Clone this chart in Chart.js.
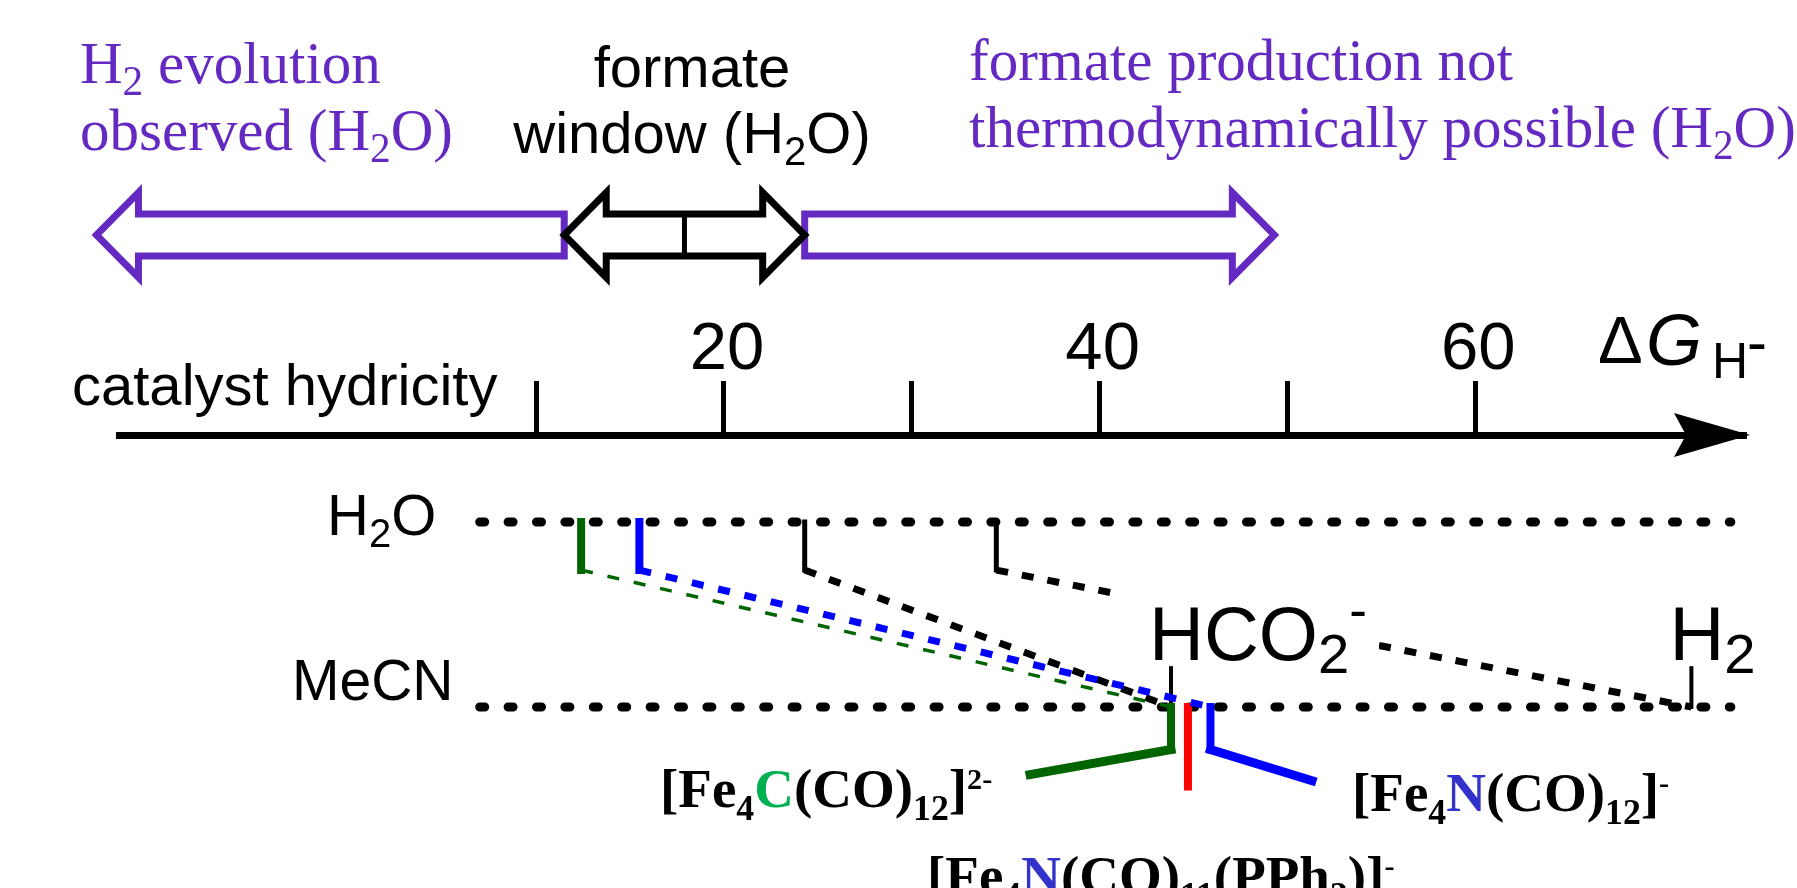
<!DOCTYPE html>
<html>
<head>
<meta charset="utf-8">
<script src="https://cdn.jsdelivr.net/npm/chart.js@4.4.1/dist/chart.umd.min.js"></script>
<style>
  html, body { margin: 0; padding: 0; background: #fff; }
  #wrap { width: 1797px; height: 888px; overflow: hidden; }
</style>
</head>
<body>
<div id="wrap"><canvas id="hydricityChart" width="1797" height="888"></canvas></div>
<script>
// hydricity values (kcal/mol)
const axisRange = [-12.2, 74.3];
const axisTicks = [10, 20, 30, 40, 50, 60];
const axisLabels = [20, 40, 60];

const refNames = ['HCO2-', 'H2'];
const refH2O = [24.3, 34.5];
const refMeCN = [43.8, 71.5];

const catNames = ['[Fe4C(CO)12]2-', '[Fe4N(CO)12]-', '[Fe4N(CO)11(PPh3)]-'];
const catH2O = [12.4, 15.5, null];
const catMeCN = [43.8, 45.9, 44.7];
const catColors = ['#006400', '#0000ff', '#ff0000'];

// regions in water, shown by the block arrows on top
const h2EvolutionLimit = 11.5;
const formateLimit = refH2O[0];
const arrowOuter = [-13.4, 49.3];

// solvent levels
const levelNames = ['H2O', 'MeCN'];
const levelY = [1, 0];
const levelSpan = [7.0, 73.6];

// drawing constants (level units)
const TICK_H2O = 0.26;
const TICK_MECN = 0.21;
const catDrop = [0.23, 0.23, 0.43];
const callout = [{ dx: -7.5, dy: -0.135 }, { dx: 5.4, dy: -0.168 }, null];
const catDashW = [3.5, 7];

const SANS = "'Liberation Sans', Arial, sans-serif";
const SERIF = "'Liberation Serif', 'Times New Roman', serif";
const PURPLE = '#6429c0';

/**
 * Polyline dataset with per-segment width and dash
 */
function pathSet(label, points, color, widths, dashes) {
  return {
    label,
    data: points,
    showLine: true,
    pointRadius: 0,
    borderColor: color,
    borderWidth: widths[0],
    borderJoinStyle: 'miter',
    borderCapStyle: 'butt',
    segment: {
      borderWidth: c => widths[c.p0DataIndex],
      borderDash: c => dashes[c.p0DataIndex],
      borderCapStyle: c => (dashes[c.p0DataIndex].length ? 'butt' : 'square')
    }
  };
}

const datasets = [];

catNames.forEach((name, i) => {
  const c = catColors[i];
  const pts = [{ x: catMeCN[i], y: levelY[1] }, { x: catMeCN[i], y: levelY[1] - catDrop[i] }];
  if (callout[i]) pts.push({ x: catMeCN[i] + callout[i].dx, y: levelY[1] - catDrop[i] + callout[i].dy });
  datasets.push(pathSet(name + ' MeCN', pts, c, [8, 9], [[], []]));
  if (catH2O[i] != null) {
    datasets.push(pathSet(name + ' H2O', [
      { x: catH2O[i], y: levelY[0] },
      { x: catH2O[i], y: levelY[0] - TICK_H2O },
      { x: catMeCN[i], y: levelY[1] }
    ], c, [8, catDashW[i]], [[], [12, 15]]));
  }
});

refNames.forEach((name, i) => {
  datasets.push(pathSet(name, [
    { x: refH2O[i], y: levelY[0] },
    { x: refH2O[i], y: levelY[0] - TICK_H2O },
    { x: refMeCN[i], y: levelY[1] },
    { x: refMeCN[i], y: levelY[1] + TICK_MECN }
  ], '#000', [5, 7, 4], [[], [12, 14], []]));
});

levelNames.forEach((name, i) => {
  datasets.push({
    label: name,
    data: levelSpan.map(x => ({ x, y: levelY[i] })),
    showLine: true,
    pointRadius: 0,
    borderColor: '#000',
    borderWidth: 9,
    borderDash: [5, 23.4],
    borderCapStyle: 'round'
  });
});

/**
 * Draw text made of runs (normal / sub / sup / italic, own colours)
 */
function rich(ctx, parts, x, y, o) {
  const runs = parts.map(p => {
    const a = Array.isArray(p) ? p : [p];
    const kind = a[1] || '';
    let size = o.size, dy = 0;
    if (kind === 'sub') { size *= o.subScale || 0.7; dy = o.size * (o.subDrop || 0.2); }
    if (kind === 'sup') { size *= o.supScale || 0.6; dy = -o.size * (o.supRise || 0.38); }
    const style = kind === 'i' ? 'italic ' : '';
    return { t: a[0], color: a[2] || o.color, dy, font: `${style}${o.weight || 'normal'} ${size}px ${o.family}` };
  });
  let w = 0;
  runs.forEach(r => { ctx.font = r.font; r.w = ctx.measureText(r.t).width; w += r.w; });
  let cx = o.align === 'center' ? x - w / 2 : x;
  ctx.textAlign = 'left';
  ctx.textBaseline = 'alphabetic';
  runs.forEach(r => {
    ctx.font = r.font;
    ctx.fillStyle = r.color;
    ctx.fillText(r.t, cx, y + r.dy);
    cx += r.w;
  });
}

/**
 * Outlined block arrow between two pixel x positions
 */
function blockArrow(ctx, xa, xb, headLeft, headRight, color) {
  const cy = 235, h = 21, H = 42.5, L = 42;
  const p = [];
  if (headLeft) p.push([xa, cy], [xa + L, cy - H], [xa + L, cy - h]);
  else p.push([xa, cy + h], [xa, cy - h]);
  if (headRight) p.push([xb - L, cy - h], [xb - L, cy - H], [xb, cy], [xb - L, cy + H], [xb - L, cy + h]);
  else p.push([xb, cy - h], [xb, cy + h]);
  if (headLeft) p.push([xa + L, cy + h], [xa + L, cy + H]);
  ctx.save();
  ctx.beginPath();
  p.forEach(([px, py], k) => (k ? ctx.lineTo(px, py) : ctx.moveTo(px, py)));
  ctx.closePath();
  ctx.fillStyle = '#fff';
  ctx.fill();
  ctx.lineWidth = 7;
  ctx.lineJoin = 'miter';
  ctx.strokeStyle = color;
  ctx.stroke();
  ctx.restore();
}

const schemePlugin = {
  id: 'scheme',
  afterDatasetsDraw(chart) {
    const { ctx, scales: { x, y } } = chart;
    // H2 correlation line disappears behind the HCO2- label
    const lx = x.getPixelForValue(refMeCN[0]) - 22;
    const ly = y.getPixelForValue(levelY[1]) - 47;
    ctx.save();
    ctx.fillStyle = '#fff';
    ctx.fillRect(lx - 28, ly - 74, 258, 76);
    ctx.restore();
  },
  afterDraw(chart) {
    const { ctx, chartArea, scales: { x, y } } = chart;
    const px = v => x.getPixelForValue(v);

    // axis arrowhead
    const xr = chartArea.right + 6, ya = chartArea.top;
    ctx.save();
    ctx.beginPath();
    ctx.moveTo(xr, ya);
    ctx.lineTo(xr - 76, ya - 22);
    ctx.lineTo(xr - 64, ya);
    ctx.lineTo(xr - 76, ya + 22);
    ctx.closePath();
    ctx.fillStyle = '#000';
    ctx.fill();
    ctx.restore();

    // block arrows (water)
    blockArrow(ctx, px(arrowOuter[0]), px(h2EvolutionLimit), true, false, PURPLE);
    blockArrow(ctx, px(formateLimit), px(arrowOuter[1]), false, true, PURPLE);
    blockArrow(ctx, px(h2EvolutionLimit), px(formateLimit), true, true, '#000');
    const mid = px((h2EvolutionLimit + formateLimit) / 2);
    ctx.save();
    ctx.lineWidth = 5;
    ctx.strokeStyle = '#000';
    ctx.beginPath();
    ctx.moveTo(mid, 214);
    ctx.lineTo(mid, 258);
    ctx.stroke();
    ctx.restore();

    const serif = { family: SERIF, size: 59, color: PURPLE, subScale: 0.7, subDrop: 0.2 };
    rich(ctx, ['H', ['2', 'sub'], ' evolution'], 80, 83, serif);
    rich(ctx, ['observed (H', ['2', 'sub'], 'O)'], 80, 150, serif);
    rich(ctx, ['formate production not'], 969, 80, serif);
    rich(ctx, ['thermodynamically possible (H', ['2', 'sub'], 'O)'], 969, 147, serif);

    const sans = { family: SANS, size: 58, color: '#000', subScale: 0.69, subDrop: 0.21 };
    rich(ctx, ['formate'], 692, 87, { ...sans, align: 'center' });
    rich(ctx, ['window (H', ['2', 'sub'], 'O)'], 692, 153, { ...sans, align: 'center' });
    rich(ctx, ['catalyst hydricity'], 72, 405, sans);

    // solvent labels
    const yH2O = y.getPixelForValue(levelY[0]);
    const yMeCN = y.getPixelForValue(levelY[1]);
    rich(ctx, ['H', ['2', 'sub'], 'O'], 327, yH2O + 13, sans);
    rich(ctx, ['MeCN'], 292, yMeCN - 7, { ...sans, size: 57 });

    // products
    const big = { family: SANS, size: 76, color: '#000', subScale: 0.74, subDrop: 0.17, supScale: 0.7, supRise: 0.42 };
    const by = yMeCN - 47;
    rich(ctx, ['HCO', ['2', 'sub'], ['-', 'sup']], px(refMeCN[0]) - 22, by, big);
    rich(ctx, ['H', ['2', 'sub']], px(refMeCN[1]) - 22, by, big);

    // axis title
    ctx.fillStyle = '#000';
    ctx.textAlign = 'left';
    ctx.textBaseline = 'alphabetic';
    const tx = chartArea.right - 146;
    ctx.font = `67px ${SANS}`;
    ctx.fillText('\u0394', tx, 363);
    ctx.font = `italic 72px ${SANS}`;
    ctx.fillText('G', tx + 48, 365);
    ctx.font = `50px ${SANS}`;
    ctx.fillText('H', tx + 114, 378);
    ctx.font = `60px ${SANS}`;
    ctx.fillText('-', tx + 149, 362);

    // catalyst labels
    const bold = { family: SERIF, size: 55, weight: 'bold', color: '#000', subScale: 0.65, subDrop: 0.23, supScale: 0.55, supRise: 0.33 };
    rich(ctx, ['[Fe', ['4', 'sub'], ['C', '', '#00b050'], '(CO)', ['12', 'sub'], ']', ['2-', 'sup']], 660, 807, bold);
    rich(ctx, ['[Fe', ['4', 'sub'], ['N', '', '#3333cc'], '(CO)', ['12', 'sub'], ']', ['-', 'sup']], 1352, 811, bold);
    rich(ctx, ['[Fe', ['4', 'sub'], ['N', '', '#3333cc'], '(CO)', ['11', 'sub'], '(PPh', ['3', 'sub'], ')]', ['-', 'sup']], 927, 894, bold);
  }
};

new Chart(document.getElementById('hydricityChart'), {
  type: 'scatter',
  data: { datasets },
  plugins: [schemePlugin],
  options: {
    responsive: false,
    animation: false,
    devicePixelRatio: 1,
    events: [],
    layout: { padding: { left: 119, right: 53, top: 0, bottom: 0 } },
    plugins: { legend: { display: false }, tooltip: { enabled: false } },
    scales: {
      x: {
        type: 'linear',
        position: 'top',
        min: axisRange[0],
        max: axisRange[1],
        bounds: 'data',
        afterFit: s => { s.height = 435; },
        afterBuildTicks: s => { s.ticks = axisTicks.map(v => ({ value: v })); },
        ticks: {
          autoSkip: false,
          maxRotation: 0,
          padding: 2,
          labelOffset: 3,
          color: '#000',
          font: { family: SANS, size: 67, lineHeight: 0.85 },
          callback: v => (axisLabels.includes(v) ? String(v) : '')
        },
        grid: { drawOnChartArea: false, tickLength: 54, tickWidth: 5, lineWidth: 5, tickColor: '#000', color: '#000' },
        border: { display: true, width: 7, color: '#000' }
      },
      y: { display: false, min: -0.978, max: 1.47 }
    }
  }
});
</script>
</body>
</html>
